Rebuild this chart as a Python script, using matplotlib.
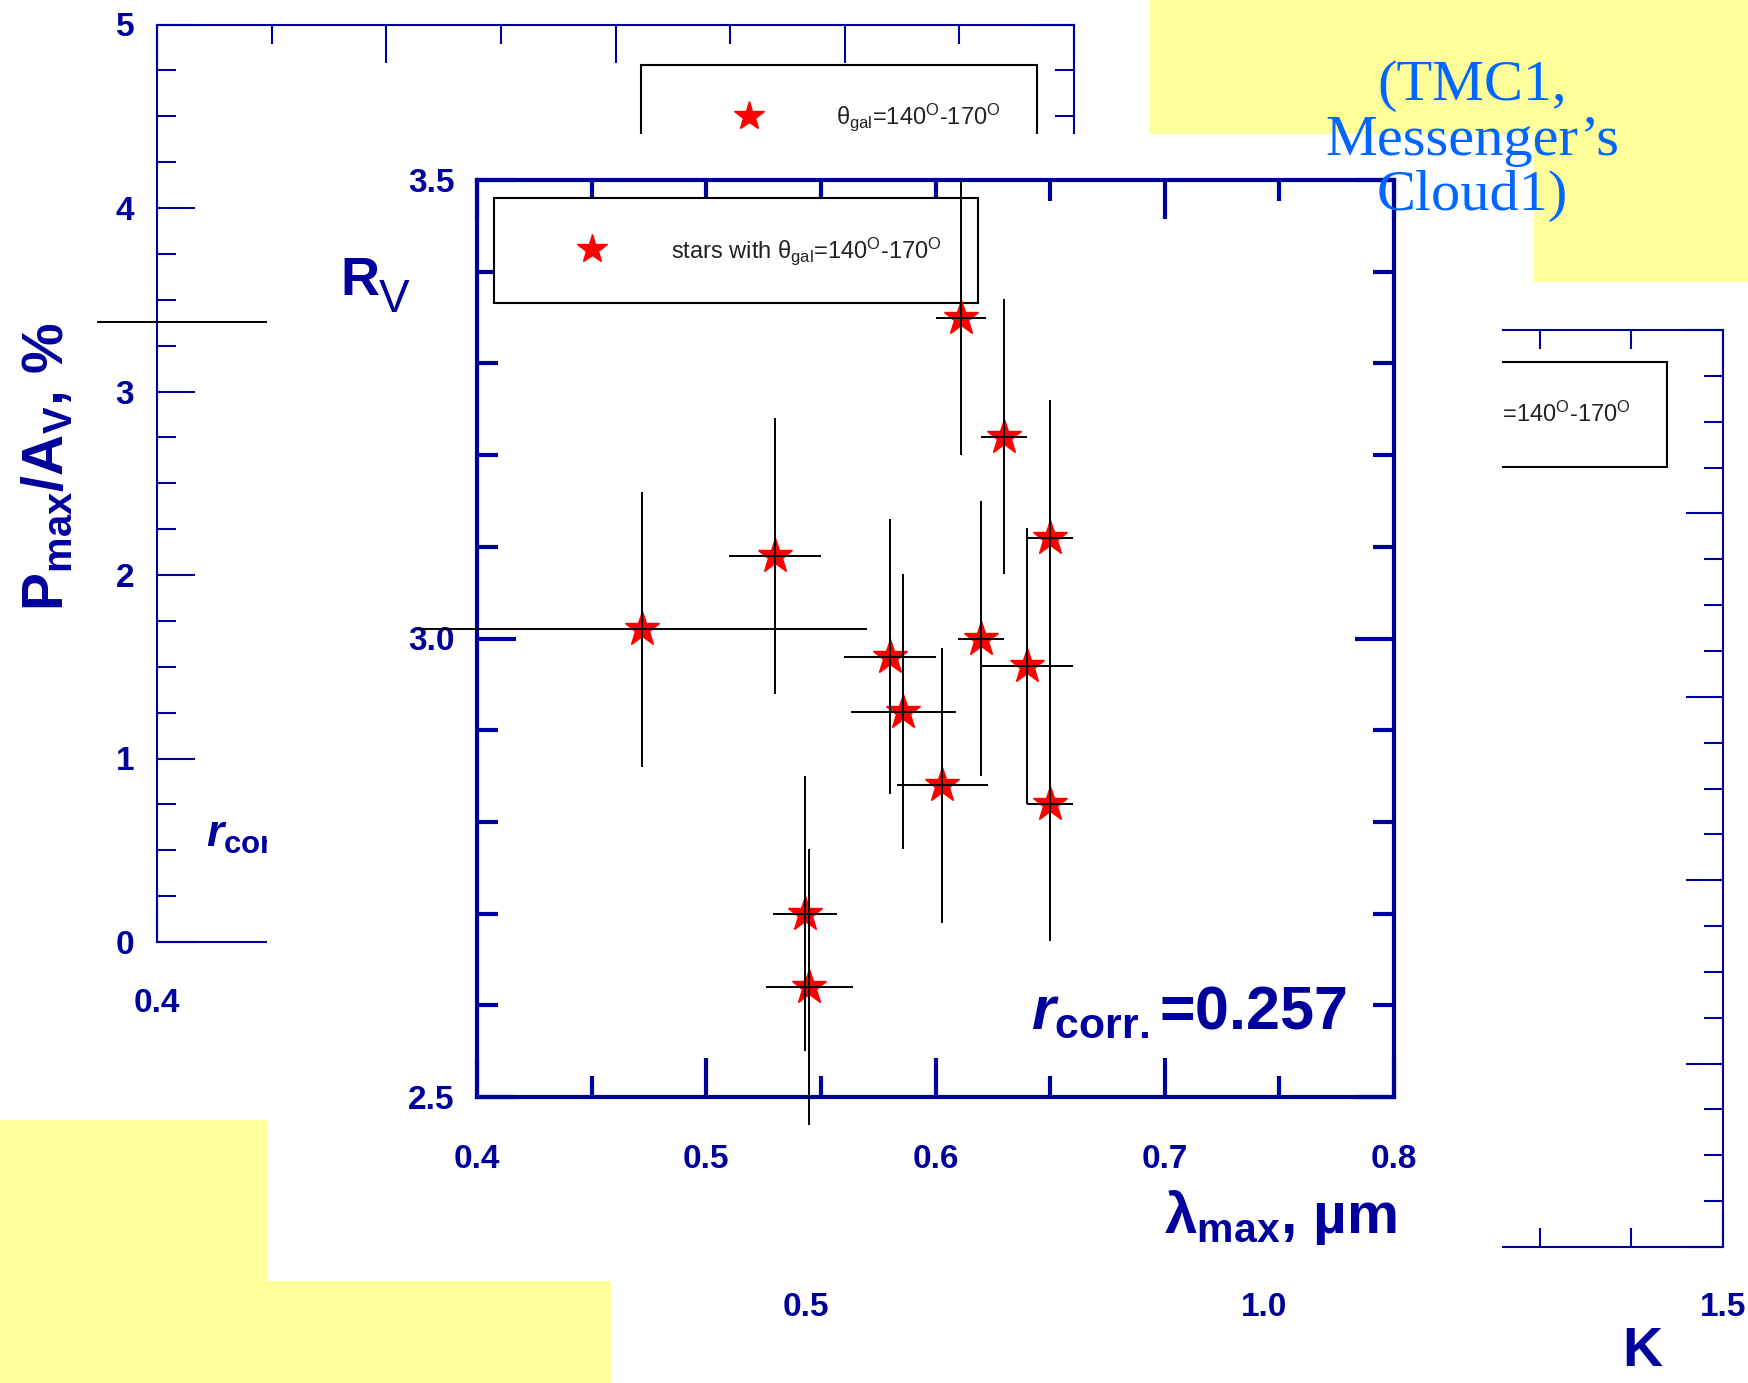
import matplotlib
matplotlib.use('Agg')
import matplotlib.pyplot as plt
from matplotlib.patches import Rectangle
from matplotlib.lines import Line2D
from matplotlib.ticker import MultipleLocator

plt.rcParams['font.family'] = ['Liberation Sans', 'DejaVu Sans']
plt.rcParams['mathtext.fontset'] = 'custom'
plt.rcParams['mathtext.rm'] = 'Liberation Sans'
plt.rcParams['mathtext.it'] = 'Liberation Sans:italic:bold'
plt.rcParams['mathtext.bf'] = 'Liberation Sans:bold'
plt.rcParams['mathtext.default'] = 'regular'

W, H = 1748, 1383
NAVY = '#00009c'
YELLOW = '#ffff99'

# R_V vs lambda_max for stars with galactic longitude 140-170 deg
lam_max = [0.472, 0.530, 0.611, 0.630, 0.650, 0.580, 0.586,
           0.620, 0.640, 0.650, 0.603, 0.543, 0.545]
lam_err = [0.098, 0.020, 0.011, 0.010, 0.010, 0.020, 0.023,
           0.010, 0.020, 0.010, 0.020, 0.014, 0.019]
r_v = [3.01, 3.09, 3.35, 3.22, 3.11, 2.98, 2.92,
       3.00, 2.97, 2.82, 2.84, 2.70, 2.62]
r_v_err = [0.15, 0.15, 0.15, 0.15, 0.15, 0.15, 0.15,
           0.15, 0.15, 0.15, 0.15, 0.15, 0.15]
r_corr = 0.257

# P_max/A_V panel behind (only one error bar shows)
pav_lam = [0.472]
pav_lam_err = [0.098]
pav = [3.38]

lam_ticks = [0.4, 0.5, 0.6, 0.7, 0.8]
rv_ticks = [2.5, 3.0, 3.5]
pav_ticks = [0, 1, 2, 3, 4, 5]
k_ticks = [0.5, 1.0, 1.5]

legend_label = 'stars with θ$_{gal}$=140$^{O}$-170$^{O}$'
legend_short = 'θ$_{gal}$=140$^{O}$-170$^{O}$'


def fig_box(left, top, right, bottom):
    return [left / W, 1 - bottom / H, (right - left) / W, (bottom - top) / H]


def fx(px):
    return px / W


def fy(py):
    return 1 - py / H


def style_axes(ax, lw, major_len, minor_len, xpad, ypad):
    for side in ax.spines.values():
        side.set_color(NAVY)
        side.set_linewidth(lw)
    ax.tick_params(which='both', direction='in', top=True, right=True,
                   color=NAVY, width=lw)
    ax.tick_params(which='major', length=major_len)
    ax.tick_params(which='minor', length=minor_len)
    ax.tick_params(axis='x', pad=xpad)
    ax.tick_params(axis='y', pad=ypad)


def set_ticks(ax, xt, xlabels, xminor, yt, ylabels, yminor):
    ax.set_xticks(xt, labels=xlabels, fontsize=24, fontweight='bold', color=NAVY)
    ax.set_yticks(yt, labels=ylabels, fontsize=24, fontweight='bold', color=NAVY)
    ax.xaxis.set_minor_locator(MultipleLocator(xminor))
    ax.yaxis.set_minor_locator(MultipleLocator(yminor))


def add_legend(ax, handles, labels, loc, anchor, hlen, tpad):
    leg = ax.legend(handles, labels, loc=loc, bbox_to_anchor=anchor,
                    borderaxespad=0, borderpad=1.55, handlelength=hlen,
                    handletextpad=tpad, markerscale=0.85, fancybox=False,
                    framealpha=1, edgecolor='black', labelcolor='#222222',
                    prop={'family': 'Liberation Sans', 'size': 17})
    leg.get_frame().set_linewidth(1.5)
    # error bars run across the legend box
    leg.set_zorder(2.5)
    return leg


fig = plt.figure(figsize=(W / 100, H / 100), dpi=100)
fig.patch.set_facecolor('white')

# ---- P_max/A_V panel (back) ----
ax_p = fig.add_axes(fig_box(157, 24.5, 1074, 942), zorder=0)
ax_p.set_facecolor('none')
ax_p.set_xlim(0.4, 0.8)
ax_p.set_ylim(0, 5)
style_axes(ax_p, 1.5, 27, 13.5, 33, 16.5)
# only the first x label sits outside the front sheet
set_ticks(ax_p, lam_ticks, ['0.4'] + [''] * (len(lam_ticks) - 1), 0.05,
          pav_ticks, [str(v) for v in pav_ticks], 0.25)
p_stars, = ax_p.plot(pav_lam, pav, ls='none', marker='*', ms=26,
                     color='red', mec='red', zorder=3)
eb = ax_p.errorbar(pav_lam, pav, xerr=pav_lam_err, fmt='none',
                   ecolor='black', elinewidth=1.4, capsize=0, zorder=4)
for coll in eb[2]:
    coll.set_clip_on(False)
add_legend(ax_p, [p_stars], [legend_short], 'upper left', (0.528, 0.956), 6.05, 0.66)
ax_p.text(fx(48), fy(467), 'P$_{max}$/A$_V$, %', transform=fig.transFigure,
          rotation=90, ha='center', va='center', fontsize=41,
          fontweight='bold', color=NAVY)
ax_p.text(fx(206), fy(847), r'$\mathit{r}_{corr.}$', transform=fig.transFigure,
          ha='left', va='baseline', fontsize=32, fontweight='bold', color=NAVY)

# ---- K panel (back, right) ----
ax_k = fig.add_axes(fig_box(806, 330, 1723, 1247), zorder=0.5)
ax_k.set_facecolor('none')
ax_k.set_xlim(0.5, 1.5)
ax_k.set_ylim(0, 5)
style_axes(ax_k, 1.5, 27, 14, 32.5, 16.5)
set_ticks(ax_k, k_ticks, [f'{v:.1f}' for v in k_ticks], 0.1,
          pav_ticks, [''] * len(pav_ticks), 0.25)
k_star = Line2D([], [], ls='none', marker='*', ms=26, color='red', mec='red')
add_legend(ax_k, [k_star], [legend_label], 'upper right', (0.939, 0.965), 5.2, 0.74)
ax_k.text(fx(1642), fy(1352), 'K', transform=fig.transFigure, ha='center',
          va='center', fontsize=40, fontweight='bold', color=NAVY)

# white sheet under the front chart
fig.add_artist(Rectangle((fx(267), fy(1280)), (1502 - 267) / W, (1280 - 134) / H,
                         transform=fig.transFigure, facecolor='white',
                         edgecolor='none', zorder=1))

# ---- R_V vs lambda_max (front) ----
ax = fig.add_axes(fig_box(477, 180, 1394, 1097), zorder=2)
ax.set_facecolor('white')
ax.set_xlim(0.4, 0.8)
ax.set_ylim(2.5, 3.5)
style_axes(ax, 3, 28, 15, 34, 16)
set_ticks(ax, lam_ticks, [f'{v:.1f}' for v in lam_ticks], 0.05,
          rv_ticks, [f'{v:.1f}' for v in rv_ticks], 0.1)

stars, = ax.plot(lam_max, r_v, ls='none', marker='*', ms=26, color='red',
                 mec='red', zorder=3, clip_on=False)
eb = ax.errorbar(lam_max, r_v, xerr=lam_err, yerr=r_v_err, fmt='none',
                 ecolor='black', elinewidth=1.4, capsize=0, zorder=4)
for coll in eb[2]:
    coll.set_clip_on(False)
add_legend(ax, [stars], [legend_label], 'upper left', (0.0185, 0.980), 5.2, 0.74)

ax.text(fx(340), fy(295), 'R', transform=fig.transFigure, ha='left',
        va='baseline', fontsize=39, fontweight='bold', color=NAVY)
ax.text(fx(379), fy(312), 'V', transform=fig.transFigure, ha='left',
        va='baseline', fontsize=33, color=NAVY)
ax.text(fx(1397), fy(1233), 'λ$_{max}$, µm', transform=fig.transFigure,
        ha='right', va='baseline', fontsize=42, fontweight='bold', color=NAVY)
ax.text(fx(1347), fy(1028), rf'$\mathit{{r}}_{{corr.}}$={r_corr:.3f}',
        transform=fig.transFigure, ha='right', va='baseline', fontsize=44,
        fontweight='bold', color=NAVY)

# yellow slide blocks
for l, t, r, b in [(1150, 0, 1748, 134), (1534, 134, 1748, 282),
                   (0, 1120, 267, 1383), (267, 1281, 611, 1383)]:
    fig.add_artist(Rectangle((fx(l), fy(b)), (r - l) / W, (b - t) / H,
                             transform=fig.transFigure, facecolor=YELLOW,
                             edgecolor='none', zorder=4))

fig.text(fx(1472), fy(141), '(TMC1,\nMessenger’s\nCloud1)', ha='center',
         va='center', multialignment='center', fontsize=42,
         family='Liberation Serif', color='#0066ff', linespacing=1.07, zorder=5)

fig.savefig('out.png', dpi=100, facecolor='white')
